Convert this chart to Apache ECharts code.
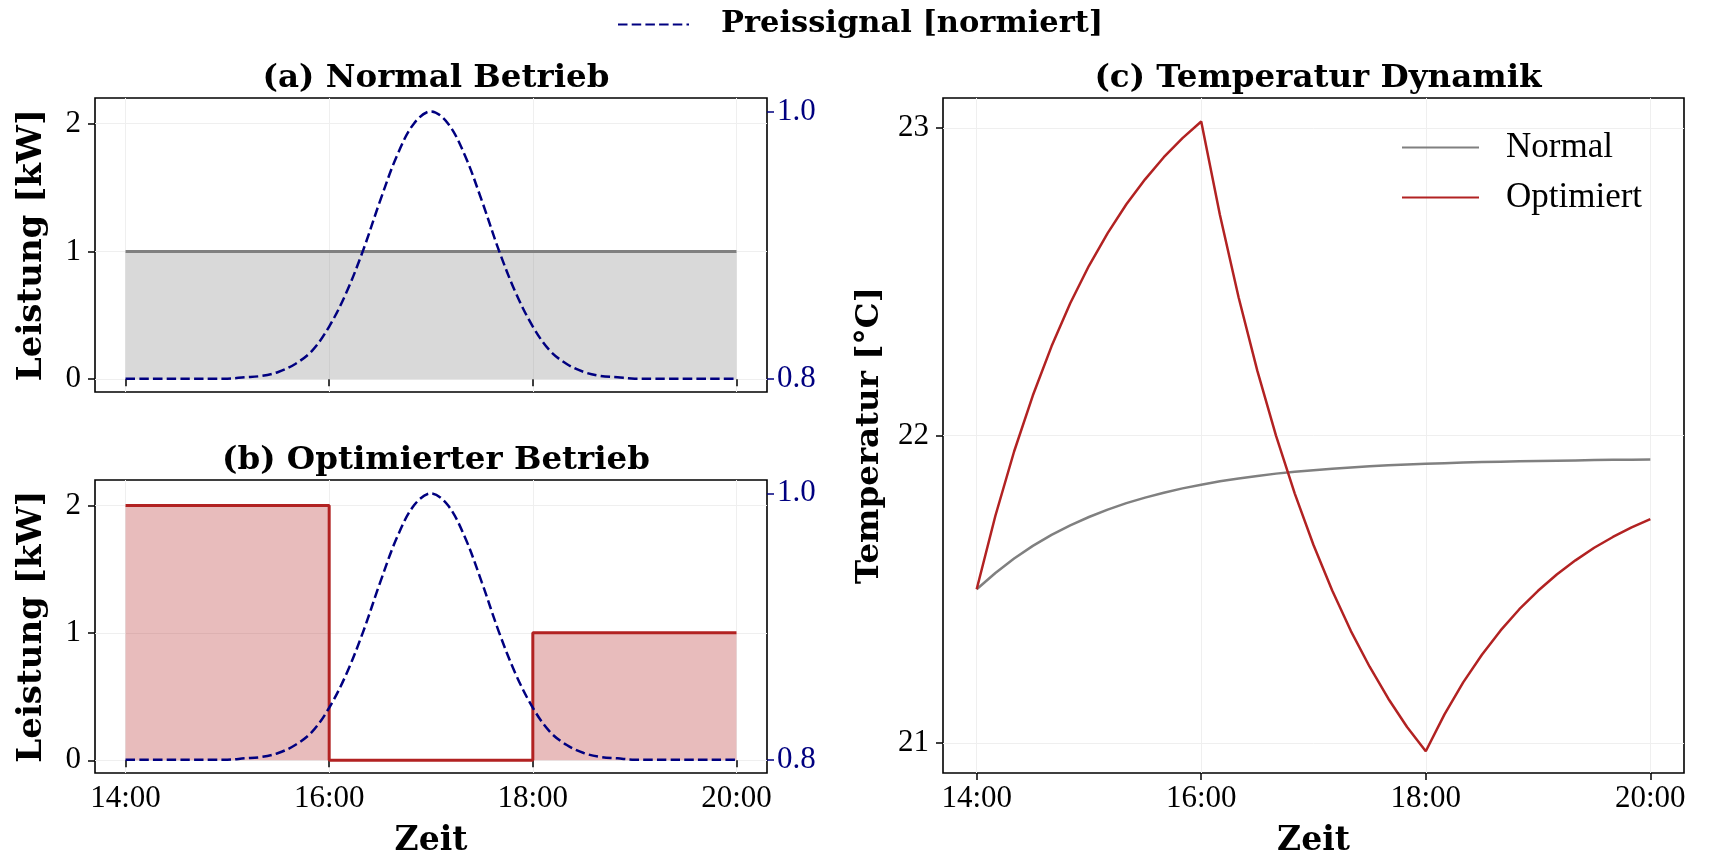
<!DOCTYPE html>
<html><head><meta charset="utf-8">
<script src="https://cdn.jsdelivr.net/npm/echarts@6/dist/echarts.min.js"></script>
<style>html,body{margin:0;padding:0;background:#fff}#c{width:1711px;height:856px}</style>
</head><body><div id="c"></div>
<script>
// time in minutes since midnight (10-minute steps, 14:00 .. 20:00)
const timeMin = [840,850,860,870,880,890,900,910,920,930,940,950,960,970,980,990,1000,1010,1020,1030,1040,1050,1060,1070,1080,1090,1100,1110,1120,1130,1140,1150,1160,1170,1180,1190,1200];
const priceSignal = [0.800,0.800,0.800,0.800,0.800,0.800,0.800,0.801,0.802,0.805,0.811,0.821,0.839,0.864,0.896,0.933,0.967,0.991,1.000,0.991,0.967,0.933,0.896,0.864,0.839,0.821,0.811,0.805,0.802,0.801,0.800,0.800,0.800,0.800,0.800,0.800,0.800];
const tempNormal = [21.500,21.553,21.600,21.641,21.677,21.708,21.735,21.759,21.780,21.798,21.814,21.828,21.840,21.851,21.860,21.868,21.876,21.882,21.887,21.892,21.896,21.900,21.903,21.906,21.908,21.910,21.912,21.914,21.915,21.916,21.917,21.918,21.919,21.920,21.921,21.921,21.922];
const tempOptimized = [21.500,21.739,21.948,22.130,22.290,22.430,22.552,22.658,22.752,22.833,22.905,22.967,23.021,22.717,22.449,22.210,21.999,21.811,21.644,21.496,21.364,21.248,21.144,21.052,20.973,21.093,21.197,21.287,21.366,21.435,21.495,21.548,21.594,21.635,21.670,21.701,21.728];
const stepTimes = [840,960,1080,1200];
const powerOptimized = [2,0,1,1];
const normalTimes = [840,1200];
const powerNormal = [1,1];
const timeTicks = [840,960,1080,1200];
const powerTicks = [0,1,2];
const priceTicks = [0.8,1.0];
const tempTicks = [21,22,23];

const REG = 'Liberation Serif';
const BOLD = 'DejaVu Serif';
const NAVY = '#000080';
const RED = '#b22222';
const GRAY = '#808080';
const pairs = (xs, ys) => xs.map((x, i) => [x, ys[i]]);
const fmtTime = v => { const h = Math.floor(v / 60), m = v % 60; return h + ':' + (m < 10 ? '0' : '') + m; };

function xAx(grid, showLabel, name) {
  return {
    type: 'value', gridIndex: grid, min: 822, max: 1218,
    axisLine: {show: false},
    axisTick: {show: true, customValues: timeTicks, length: 7, lineStyle: {color: '#000', width: 1.5}},
    axisLabel: {show: showLabel, customValues: timeTicks, formatter: fmtTime, fontFamily: REG, fontSize: 31, color: '#000', margin: 10},
    splitLine: {show: true, lineStyle: {color: '#efefef', width: 1}},
    name: name || '', nameLocation: 'middle', nameGap: 52,
    nameTextStyle: {fontFamily: BOLD, fontWeight: 'bold', fontSize: 33, color: '#000'}
  };
}
function yAx(grid, min, max, ticks, o) {
  o = o || {};
  const right = o.position === 'right';
  const col = right ? NAVY : '#000';
  return {
    type: 'value', gridIndex: grid, min: min, max: max, position: o.position || 'left',
    axisLine: {show: false},
    axisTick: {show: true, customValues: ticks, length: 7, lineStyle: {color: col, width: 1.5}},
    axisLabel: {show: true, customValues: ticks, formatter: o.fmt || (v => String(v)), fontFamily: REG, fontSize: 31, color: col, margin: right ? 10 : 14},
    splitLine: {show: !right, lineStyle: {color: '#efefef', width: 1}},
    name: o.name || '', nameLocation: 'middle', nameGap: o.gap || 46, nameRotate: 90,
    nameTextStyle: {fontFamily: BOLD, fontWeight: 'bold', fontSize: o.nameSize || 34, color: '#000'}
  };
}
const gridBox = {show: true, borderColor: '#000', borderWidth: 1.6, backgroundColor: 'transparent', containLabel: false, outerBoundsMode: 'none'};
const titleStyle = {fontFamily: BOLD, fontWeight: 'bold', fontSize: 32.5, color: '#000'};

const option = {
  animation: false,
  backgroundColor: '#fff',
  title: [
    {text: '(a) Normal Betrieb', left: 431, top: 57, textAlign: 'center', textStyle: titleStyle},
    {text: '(b) Optimierter Betrieb', left: 431, top: 439, textAlign: 'center', textStyle: titleStyle},
    {text: '(c) Temperatur Dynamik', left: 1313, top: 57, textAlign: 'center', textStyle: titleStyle}
  ],
  legend: [
    {data: ['Preissignal [normiert]'], left: 612, top: 4, itemWidth: 71, itemHeight: 14,
     itemStyle: {opacity: 0},
     textStyle: {fontFamily: BOLD, fontWeight: 'bold', fontSize: 30.5, color: '#000', padding: [0, 0, 0, 27]}},
    {data: ['Normal', 'Optimiert'], orient: 'vertical', left: 1396, top: 125, itemWidth: 77, itemHeight: 14, itemGap: 15,
     itemStyle: {opacity: 0},
     textStyle: {fontFamily: REG, fontSize: 35, color: '#000', padding: [0, 0, 0, 22]}}
  ],
  grid: [
    Object.assign({left: 95, top: 98, width: 672, height: 294}, gridBox),
    Object.assign({left: 95, top: 480, width: 672, height: 293}, gridBox),
    Object.assign({left: 943, top: 98, width: 741, height: 675}, gridBox)
  ],
  xAxis: [xAx(0, false), xAx(1, true, 'Zeit'), xAx(2, true, 'Zeit')],
  yAxis: [
    yAx(0, -0.1, 2.2, powerTicks, {name: 'Leistung [kW]'}),
    yAx(0, 0.79, 1.01, priceTicks, {position: 'right', fmt: v => v.toFixed(1)}),
    yAx(1, -0.1, 2.2, powerTicks, {name: 'Leistung [kW]'}),
    yAx(1, 0.79, 1.01, priceTicks, {position: 'right', fmt: v => v.toFixed(1)}),
    yAx(2, 20.9024, 23.0976, tempTicks, {name: 'Temperatur [°C]', gap: 57, nameSize: 32.5})
  ],
  series: [
    {name: 'Leistung Normal', type: 'line', xAxisIndex: 0, yAxisIndex: 0, data: pairs(normalTimes, powerNormal),
     symbol: 'none', lineStyle: {color: GRAY, width: 3}, itemStyle: {color: GRAY},
     areaStyle: {color: 'rgba(128,128,128,0.3)', opacity: 1}, z: 2},
    {name: 'Preissignal [normiert]', type: 'line', xAxisIndex: 0, yAxisIndex: 1, data: pairs(timeMin, priceSignal),
     symbol: 'none', smooth: 0.35, lineStyle: {color: NAVY, width: 2.5, type: [9.5, 4.2]}, itemStyle: {color: NAVY}, z: 4},
    {name: 'Leistung Optimiert', type: 'line', xAxisIndex: 1, yAxisIndex: 2, data: pairs(stepTimes, powerOptimized),
     step: 'end', symbol: 'none', lineStyle: {color: RED, width: 3}, itemStyle: {color: RED},
     areaStyle: {color: 'rgba(178,34,34,0.3)', opacity: 1}, z: 2},
    {name: 'Preissignal [normiert]', type: 'line', xAxisIndex: 1, yAxisIndex: 3, data: pairs(timeMin, priceSignal),
     symbol: 'none', smooth: 0.35, lineStyle: {color: NAVY, width: 2.5, type: [9.5, 4.2]}, itemStyle: {color: NAVY}, z: 4},
    {name: 'Normal', type: 'line', xAxisIndex: 2, yAxisIndex: 4, data: pairs(timeMin, tempNormal),
     symbol: 'none', lineStyle: {color: GRAY, width: 2.5}, itemStyle: {color: GRAY}, z: 3},
    {name: 'Optimiert', type: 'line', xAxisIndex: 2, yAxisIndex: 4, data: pairs(timeMin, tempOptimized),
     symbol: 'none', lineStyle: {color: RED, width: 2.5}, itemStyle: {color: RED}, z: 3}
  ]
};
const chart = echarts.init(document.getElementById('c'), null, {renderer: 'canvas'});
chart.setOption(option);
</script>
</body></html>
